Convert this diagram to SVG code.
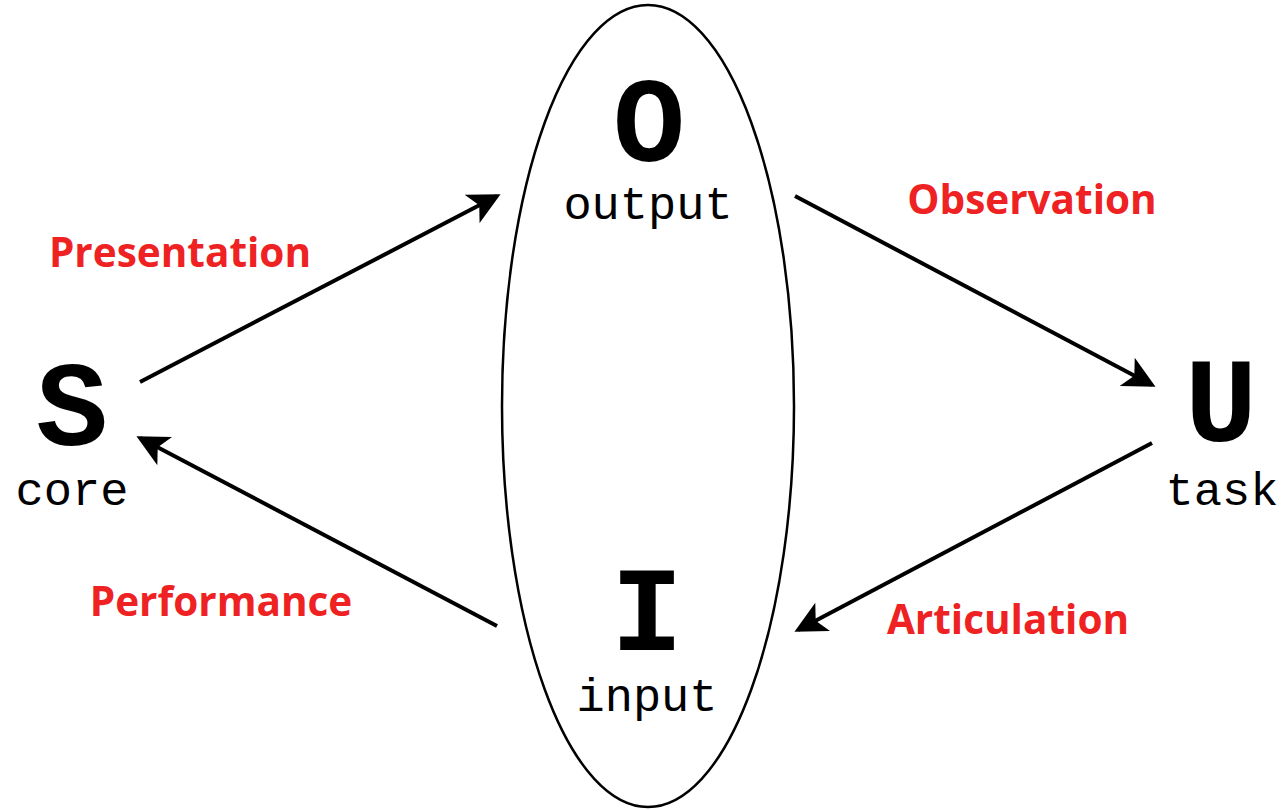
<svg xmlns="http://www.w3.org/2000/svg" width="1286" height="810" viewBox="0 0 1286 810">
<style>
.big{font-family:"Liberation Mono",monospace;font-weight:bold;font-size:120px;fill:#000;text-anchor:middle}
.small{font-family:"Liberation Mono",monospace;font-size:47px;fill:#000;text-anchor:middle}
.lbl{font-family:"Open Sans","Liberation Sans",sans-serif;font-weight:bold;font-size:40.5px;fill:#ee2222;text-anchor:middle}
.con{stroke:#000;stroke-width:4;fill:none;marker-end:url(#ah)}
</style>
<defs>
<marker id="ah" markerWidth="8" markerHeight="8" refX="7" refY="4" orient="auto" markerUnits="strokeWidth">
<path d="M0,0 L8,4 L0,8 L2,4 Z" fill="#000"/>
</marker>
</defs>
<rect width="1286" height="810" fill="#fff"/>
<g id="ellipse"><ellipse cx="648" cy="406" rx="146" ry="401" fill="none" stroke="#000" stroke-width="2.5"/></g>
<g id="node-S"><text class="big" x="72" y="445">S</text><text class="small" x="72" y="505">core</text></g>
<g id="node-O"><text class="big" x="649" y="161">O</text><text class="small" x="648" y="219">output</text></g>
<g id="node-U"><text class="big" x="1221" y="441">U</text><text class="small" x="1222" y="505">task</text></g>
<g id="node-I"><text class="big" x="647" y="650">I</text><text class="small" x="647" y="711">input</text></g>
<g id="connectors">
<line class="con" x1="140" y1="382" x2="497" y2="196"/>
<line class="con" x1="795" y1="196" x2="1152" y2="385"/>
<line class="con" x1="1152" y1="443" x2="798" y2="630"/>
<line class="con" x1="497" y1="626" x2="140" y2="438"/>
</g>
<g id="labels">
<text class="lbl" x="180" y="267">Presentation</text>
<text class="lbl" x="1032" y="214">Observation</text>
<text class="lbl" x="221" y="616">Performance</text>
<text class="lbl" x="1008" y="634">Articulation</text>
</g>
</svg>
